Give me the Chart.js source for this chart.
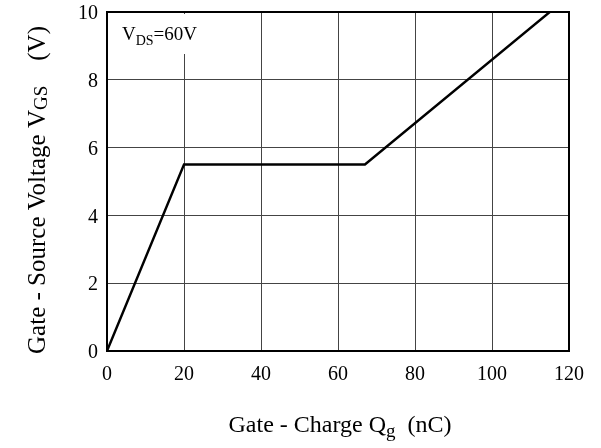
<!DOCTYPE html>
<html>
<head>
<meta charset="utf-8">
<script src="https://cdn.jsdelivr.net/npm/chart.js@4/dist/chart.umd.min.js"></script>
<style>
  html, body { margin: 0; padding: 0; background: #fff; }
  #wrap { width: 601px; height: 448px; }
</style>
</head>
<body>
<div id="wrap"><canvas id="chart"></canvas></div>
<script>
// gate charge curve (nC, V)
const charge = [0, 20, 67, 115];
const vgs = [0, 5.5, 5.5, 10];
const xTicks = [0, 20, 40, 60, 80, 100, 120];
const yTicks = [0, 2, 4, 6, 8, 10];

const serif = "'Liberation Serif', 'Times New Roman', serif";

// draws axis titles with subscripts and the VDS note
const labelsPlugin = {
  id: "labels",
  afterDraw(chart) {
    const ctx = chart.ctx;
    const area = chart.chartArea;
    ctx.save();
    ctx.fillStyle = "#000";
    ctx.textBaseline = "alphabetic";

    // note box
    const nx = 122, ny = 40;
    ctx.font = "19px " + serif;
    const w1 = ctx.measureText("V").width;
    ctx.font = "14px " + serif;
    const w2 = ctx.measureText("DS").width;
    ctx.font = "19px " + serif;
    const w3 = ctx.measureText("=60V").width;
    ctx.fillStyle = "#fff";
    ctx.fillRect(nx - 4, area.top + 2, w1 + w2 + w3 + 8, 40);
    ctx.fillStyle = "#000";
    ctx.textAlign = "left";
    ctx.fillText("V", nx, ny);
    ctx.font = "14px " + serif;
    ctx.fillText("DS", nx + w1, ny + 5);
    ctx.font = "19px " + serif;
    ctx.fillText("=60V", nx + w1 + w2, ny);

    // x title
    const xParts = [["Gate - Charge Q", 24, 0], ["g", 19, 5], ["  (nC)", 24, 0]];
    drawParts(ctx, xParts, 340, 432);

    // y title
    const yParts = [["Gate - Source Voltage V", 25, 0], ["GS", 19, 2], ["    (V)", 25, 0]];
    ctx.translate(45, 190);
    ctx.rotate(-Math.PI / 2);
    drawParts(ctx, yParts, 0, 0);
    ctx.restore();
  }
};

function drawParts(ctx, parts, cx, y) {
  let total = 0;
  parts.forEach(p => {
    ctx.font = p[1] + "px " + serif;
    total += ctx.measureText(p[0]).width;
  });
  let x = cx - total / 2;
  ctx.textAlign = "left";
  parts.forEach(p => {
    ctx.font = p[1] + "px " + serif;
    ctx.fillText(p[0], x, y + p[2]);
    x += ctx.measureText(p[0]).width;
  });
}

const data = {
  datasets: [
    {
      data: charge.map((c, i) => ({ x: c, y: vgs[i] })),
      borderColor: "#000",
      borderWidth: 2.4,
      pointRadius: 0,
      tension: 0,
      fill: false,
    },
  ],
};

const config = {
  type: "line",
  data: data,
  options: {
    responsive: false,
    animation: false,
    layout: { padding: { top: 12, right: 32, left: 0, bottom: 0 } },
    plugins: {
      legend: { display: false },
      tooltip: { enabled: false },
    },
    scales: {
      x: {
        type: "linear",
        min: 0,
        max: 120,
        afterBuildTicks: (s) => { s.ticks = xTicks.map(v => ({ value: v })); },
        afterFit: (s) => {
          s.height = 97;
          s.paddingLeft = 0;
          s.paddingRight = 0;
        },
        grid: { color: "#444", lineWidth: 1, drawTicks: false },
        border: { color: "#000", width: 2 },
        ticks: { color: "#000", font: { family: serif, size: 20 }, padding: 12, maxRotation: 0 },
      },
      y: {
        min: 0,
        max: 10,
        afterBuildTicks: (s) => { s.ticks = yTicks.map(v => ({ value: v })); },
        afterFit: (s) => {
          s.width = 107;
          s.paddingTop = 0;
          s.paddingBottom = 0;
        },
        grid: { color: "#444", lineWidth: 1, drawTicks: false },
        border: { color: "#000", width: 2 },
        ticks: { color: "#000", font: { family: serif, size: 20 }, padding: 9, labelOffset: 2 },
      },
    },
  },
  plugins: [
    labelsPlugin,
    {
      id: "frame",
      afterDatasetsDraw(chart) {
        const { ctx, chartArea: a } = chart;
        ctx.save();
        ctx.strokeStyle = "#000";
        ctx.lineWidth = 2;
        ctx.strokeRect(a.left, a.top, a.right - a.left, a.bottom - a.top);
        ctx.restore();
      },
    },
  ],
};

const canvas = document.getElementById("chart");
canvas.width = 601;
canvas.height = 448;
const myChart = new Chart(canvas.getContext("2d"), config);
</script>
</body>
</html>
